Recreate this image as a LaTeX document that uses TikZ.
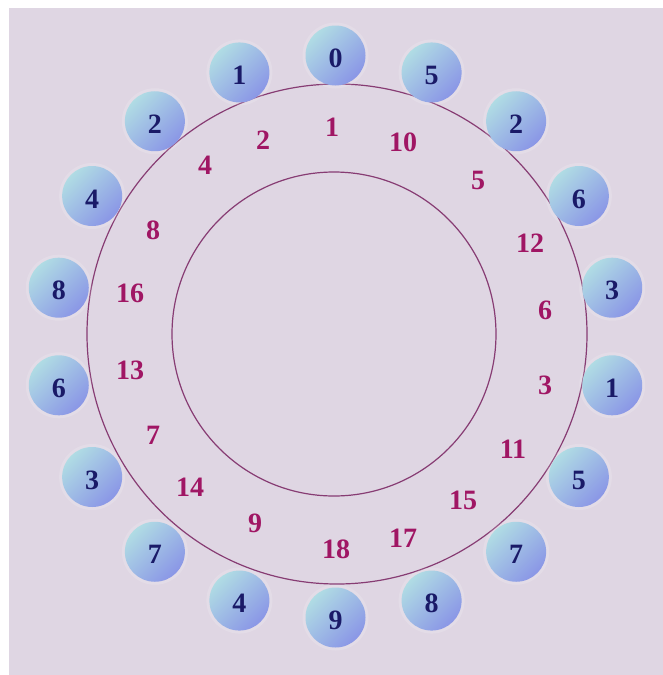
\documentclass[tikz,border=0pt]{standalone}
\usepackage{fontspec}
\setmainfont{Liberation Serif}
\definecolor{bgc}{RGB}{223,214,227}
\definecolor{ringc}{RGB}{135,60,115}
\definecolor{numc}{RGB}{160,22,100}
\definecolor{digc}{RGB}{26,26,104}
\definecolor{ballA}{RGB}{176,220,228}
\definecolor{ballB}{RGB}{138,150,230}
\tikzset{
  ring/.style={draw=ringc, line width=1.2pt},
  ball/.style={circle, minimum size=60pt, inner sep=0pt,
    top color=ballA, bottom color=ballB, shading angle=45},
  dig/.style={text=digc, inner sep=0pt, yshift=-3pt, font=\fontsize{28}{28}\selectfont\bfseries},
  halo/.style={fill=white, opacity=0.15},
  num/.style={text=numc, inner sep=0pt, font=\fontsize{28}{28}\selectfont\bfseries}
}
\begin{document}
\begin{tikzpicture}[x=1pt,y=-1pt]
\useasboundingbox (0,0) rectangle (663,675);
\fill[white] (0,0) rectangle (663,675);
\fill[bgc] (9,8) rectangle (663,675);
\draw[ring] (337,334) circle (250pt);
\draw[ring] (334,334) circle (162pt);
\foreach \d [count=\i from 0] in {0,5,2,6,3,1,5,7,8,9,4,7,3,6,8,4,2,1} {
  \pgfmathsetmacro\a{90-20*\i}
  \fill[halo] ({335.5+281*cos(\a)},{336.5-281*sin(\a)}) circle (33pt);
  \node[ball] (b\i) at ({335.5+281*cos(\a)},{336.5-281*sin(\a)}) {};
  \node[dig] (d\i) at (b\i) {\d};
}
\foreach \x/\y/\t [count=\i] in {332/127/1, 403/142/10, 478/180/5, 530/243/12, 545/310/6, 545/385/3,
  513/449/11, 463/500/15, 403/538/17, 336/549/18, 255/523/9, 190/487/14, 153/435/7,
  130/370/13, 130/293/16, 153/230/8, 205/165/4, 263/140/2} {
  \node[num] (n\i) at (\x,\y) {\t};
}
\end{tikzpicture}
\end{document}
